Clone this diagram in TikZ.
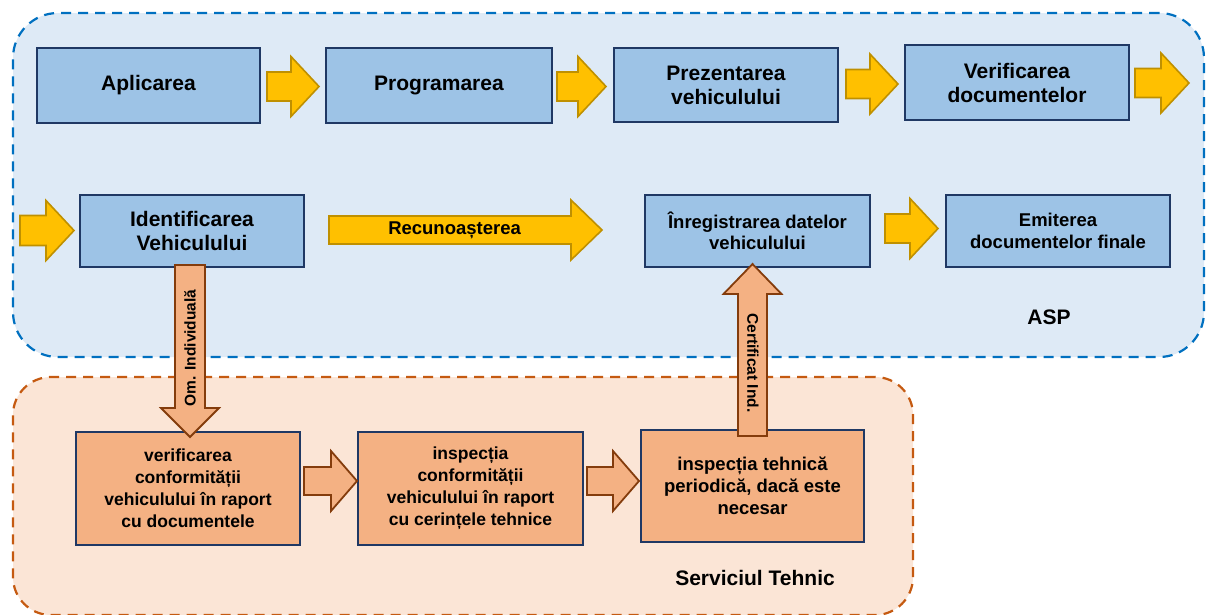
\documentclass[tikz,border=0pt]{standalone}
\usepackage{fontspec}
\setmainfont{Liberation Sans}
\usetikzlibrary{calc}
\definecolor{aspfill}{HTML}{DEEAF6}
\definecolor{aspline}{HTML}{0070C0}
\definecolor{boxblue}{HTML}{9DC3E6}
\definecolor{navy}{HTML}{1F3864}
\definecolor{gold}{HTML}{FFC000}
\definecolor{goldline}{HTML}{BF9000}
\definecolor{stfill}{HTML}{FBE5D6}
\definecolor{stline}{HTML}{C55A11}
\definecolor{peach}{HTML}{F4B183}
\definecolor{brownline}{HTML}{843C0C}
% #1 style, #2 start, #3 tip, #4 shaft half width, #5 head half width, #6 head length
\newcommand{\blockarr}[6]{%
  \coordinate (bah) at ($(#3)!#6!(#2)$);
  \draw[#1] ($(#2)!#4!90:(#3)$) -- ($(bah)!#4!90:(#3)$) -- ($(bah)!#5!90:(#3)$) -- (#3)
    -- ($(bah)!#5!-90:(#3)$) -- ($(bah)!#4!-90:(#3)$) -- ($(#2)!#4!-90:(#3)$) -- cycle;
}
\tikzset{
  container/.style={line width=2.2pt, dash pattern=on 10pt off 7pt, inner sep=0pt},
  bluebox/.style={draw=navy, fill=boxblue, line width=2pt, align=center, inner sep=2pt,
    font=\bfseries\fontsize{21}{24}\selectfont},
  blueboxs/.style={bluebox, font=\bfseries\fontsize{18.5}{21.5}\selectfont},
  peachbox/.style={draw=navy, fill=peach, line width=2pt, align=center, inner sep=2pt,
    font=\bfseries\fontsize{17.5}{22}\selectfont},
  yarrow/.style={fill=gold, draw=goldline, line width=1.6pt},
  oarrow/.style={fill=peach, draw=brownline, line width=1.8pt},
  lbl/.style={font=\bfseries\fontsize{21}{24}\selectfont, inner sep=0pt},
  arrlbl/.style={font=\bfseries\fontsize{15.5}{18}\selectfont, inner sep=0pt},
}
\begin{document}
\begin{tikzpicture}[x=1pt,y=-1pt]
\useasboundingbox (0,0) rectangle (1213,614);
% containers
\node[container, draw=aspline, fill=aspfill, rounded corners=45pt,
  minimum width=1191pt, minimum height=344pt] (aspc) at (608.5,185) {};
\node[container, draw=stline, fill=stfill, rounded corners=38pt,
  minimum width=900pt, minimum height=238pt] (stc) at (463,496) {};
\node[lbl] (asplbl) at (1049,317) {ASP};
\node[lbl] (stlbl) at (755,578) {Serviciul Tehnic};
% row 1
\node[bluebox, minimum width=223pt, minimum height=75pt] (apl) at (148.5,85.5) {\strut Aplicarea};
\node[bluebox, minimum width=226pt, minimum height=75pt] (prog) at (439,85.5) {\strut Programarea};
\node[bluebox, minimum width=224pt, minimum height=74pt] (prez) at (726,85) {Prezentarea\\vehiculului};
\node[bluebox, minimum width=224pt, minimum height=75pt] (verif) at (1017,82.5) {Verificarea\\documentelor};
% row 2
\node[bluebox, minimum width=224pt, minimum height=72pt] (ident) at (192,231) {Identificarea\\Vehiculului};
\node[blueboxs, minimum width=225pt, minimum height=72pt] (inreg) at (757.5,231) {Înregistrarea datelor\\vehiculului};
\node[blueboxs, minimum width=224pt, minimum height=72pt] (emit) at (1058,231) {Emiterea\\documentelor finale};
% row 3
\node[peachbox, minimum width=224pt, minimum height=113pt] (verconf) at (188,488.5) {verificarea\\conformității\\vehiculului în raport\\cu documentele};
\node[peachbox, minimum width=225pt, minimum height=113pt] (inspconf) at (470.5,488.5) {inspecția\\conformității\\vehiculului în raport\\cu cerințele tehnice};
\node[peachbox, minimum width=223pt, minimum height=112pt, font=\bfseries\fontsize{18.5}{22}\selectfont] (insptehn) at (752.5,486) {inspecția tehnică\\periodică, dacă este\\necesar};
% yellow arrows row 1
\coordinate (a1s) at ($(apl.east)+(6,1)$);
\coordinate (a1e) at ($(prog.west)+(-6,1)$);
\blockarr{yarrow}{a1s}{a1e}{14.5pt}{30pt}{28pt}
\coordinate (a2s) at ($(prog.east)+(4,1)$);
\coordinate (a2e) at ($(prez.west)+(-7,1.5)$);
\blockarr{yarrow}{a2s}{a2e}{14.5pt}{30pt}{28pt}
\coordinate (a3s) at ($(prez.east)+(7,-1)$);
\coordinate (a3e) at ($(verif.west)+(-6,1.5)$);
\blockarr{yarrow}{a3s}{a3e}{14.5pt}{30pt}{28pt}
\coordinate (a4s) at ($(verif.east)+(5,0.5)$);
\coordinate (a4e) at ($(verif.east)+(59,0.5)$);
\blockarr{yarrow}{a4s}{a4e}{14.5pt}{30pt}{28pt}
% row 2 arrows
\coordinate (a5s) at (20,230.5);
\coordinate (a5e) at ($(ident.west)+(-5,-0.5)$);
\blockarr{yarrow}{a5s}{a5e}{15pt}{30pt}{28pt}
\coordinate (recs) at ($(ident.east)+(24,-1)$);
\coordinate (rece) at ($(inreg.west)+(-42,-1)$);
\blockarr{yarrow}{recs}{rece}{14pt}{30pt}{31pt}
\node[arrlbl, font=\bfseries\fontsize{18.5}{21}\selectfont] (reclbl) at ($(recs)!0.46!(rece)$) {Recunoașterea};
\coordinate (a6s) at ($(inreg.east)+(14,-2.5)$);
\coordinate (a6e) at ($(emit.west)+(-7,-2.5)$);
\blockarr{yarrow}{a6s}{a6e}{14.5pt}{30pt}{28pt}
% orange arrows
\coordinate (b1s) at ($(verconf.east)+(3,-7.5)$);
\coordinate (b1e) at ($(inspconf.west)+(0,-7.5)$);
\blockarr{oarrow}{b1s}{b1e}{14pt}{30pt}{26pt}
\coordinate (b2s) at ($(inspconf.east)+(3,-7.5)$);
\coordinate (b2e) at ($(insptehn.west)+(-1,-5)$);
\blockarr{oarrow}{b2s}{b2e}{14pt}{30pt}{26pt}
% vertical arrows
\coordinate (oms) at ($(ident.south)+(-2,-3)$);
\coordinate (ome) at ($(verconf.north)+(2,6)$);
\blockarr{oarrow}{oms}{ome}{15pt}{29pt}{29pt}
\node[arrlbl, rotate=90] (omlbl) at (190,348) {Om. Individuală};
\coordinate (cts) at ($(insptehn.north)+(0,7)$);
\coordinate (cte) at ($(inreg.south)+(-5,-4)$);
\blockarr{oarrow}{cts}{cte}{14.5pt}{29pt}{30pt}
\node[arrlbl, rotate=-90] (ctlbl) at (753,363) {Certificat Ind.};
\end{tikzpicture}
\end{document}
